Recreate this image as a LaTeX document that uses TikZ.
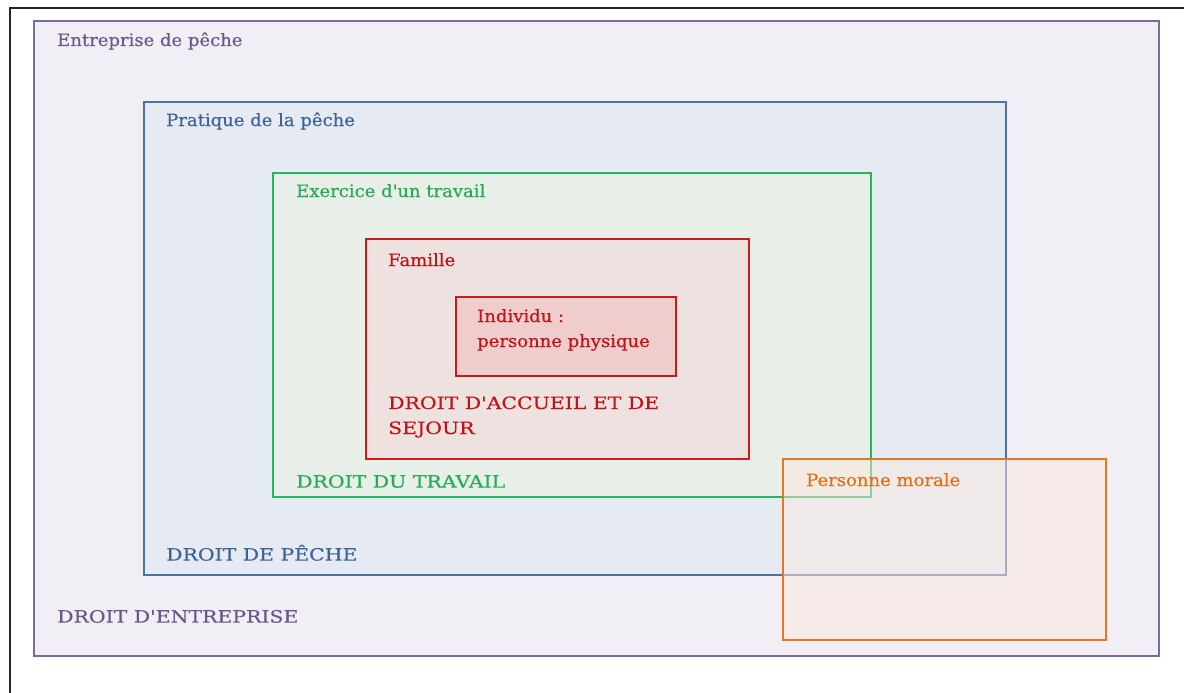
\documentclass[tikz,border=0pt]{standalone}
\usepackage{fontspec}
\setmainfont[FakeStretch=1.06, FakeBold=0.5]{DejaVu Serif}
\newfontfamily\droitfont[FakeStretch=1.2, FakeBold=0.5]{DejaVu Serif}
\usetikzlibrary{positioning, calc}

\definecolor{entline}{HTML}{7D6B9C}
\definecolor{entfill}{HTML}{F1EFF5}
\definecolor{enttext}{HTML}{6A578E}
\definecolor{pecheline}{HTML}{4E72A6}
\definecolor{pechefill}{HTML}{E5EAF3}
\definecolor{pechetext}{HTML}{3D6398}
\definecolor{travline}{HTML}{22B75A}
\definecolor{travfill}{HTML}{E8EEE8}
\definecolor{travtext}{HTML}{25AC55}
\definecolor{famline}{HTML}{CC1A1A}
\definecolor{famfill}{HTML}{EEE2E1}
\definecolor{famtext}{HTML}{C21418}
\definecolor{indfill}{HTML}{F0CDCD}
\definecolor{morline}{HTML}{E8761E}
\definecolor{morfill}{HTML}{FBE9E1}
\definecolor{mortext}{HTML}{E2701A}

\begin{document}
\begin{tikzpicture}[
    x=1pt, y=-1pt,
    zone/.style={rectangle, draw, line width=1.6pt, anchor=north west, inner sep=0pt},
    lbl/.style={anchor=base west, inner sep=0pt, align=left, font=\fontsize{17}{25}\selectfont},
    droit/.style={lbl, font=\droitfont\fontsize{17}{25}\selectfont}
]
\useasboundingbox (0,0) rectangle (1184,693);

% Page frame
\coordinate (frametop) at (1184,8);
\coordinate (framecorner) at (10,8);
\coordinate (framebottom) at (10,693);
\draw[line width=1.8pt, black!85] (framebottom) -- (framecorner) -- (frametop);

% Nested zones
\node[zone, draw=entline, fill=entfill, minimum width=1125pt, minimum height=635pt] (entreprise) at (33,20) {};
\node[zone, draw=pecheline, fill=pechefill, minimum width=862pt, minimum height=473pt] (pratique) at (143,101) {};
\node[zone, draw=travline, fill=travfill, minimum width=598pt, minimum height=324pt] (travail) at (272,172) {};
\node[zone, draw=famline, fill=famfill, minimum width=383pt, minimum height=220pt] (famille) at (365,238) {};
\node[zone, draw=famline, fill=indfill, minimum width=220pt, minimum height=79pt] (individu) at (455,296) {};

% Overlapping zone
\node[zone, draw=morline, fill=morfill, fill opacity=0.5, minimum width=323pt, minimum height=181pt] (morale) at (782,458) {};

% Labels
\node[lbl, text=enttext] (entlbl) at ($(entreprise.north west)+(24,26)$) {Entreprise de pêche};
\node[droit, text=enttext] (entdroit) at ($(entreprise.south west)+(24,-34)$) {DROIT D'ENTREPRISE};
\node[lbl, text=pechetext] (pratlbl) at ($(pratique.north west)+(23,25)$) {Pratique de la pêche};
\node[droit, text=pechetext] (pratdroit) at ($(pratique.south west)+(23,-15)$) {DROIT DE PÊCHE};
\node[lbl, text=travtext] (travlbl) at ($(travail.north west)+(24,25)$) {Exercice d\textquotesingle un travail};
\node[droit, text=travtext] (travdroit) at ($(travail.south west)+(24,-10)$) {DROIT DU TRAVAIL};
\node[lbl, text=famtext] (famlbl) at ($(famille.north west)+(23,28)$) {Famille};
\node[droit, text=famtext] (famdroit) at ($(famille.north west)+(23,196)$) {DROIT D'ACCUEIL ET DE\\SEJOUR};
\node[lbl, text=famtext] (indlbl) at ($(individu.north west)+(22,51)$) {Individu :\\personne physique};
\node[lbl, text=mortext] (morlbl) at ($(morale.north west)+(24,28)$) {Personne morale};

\end{tikzpicture}
\end{document}
